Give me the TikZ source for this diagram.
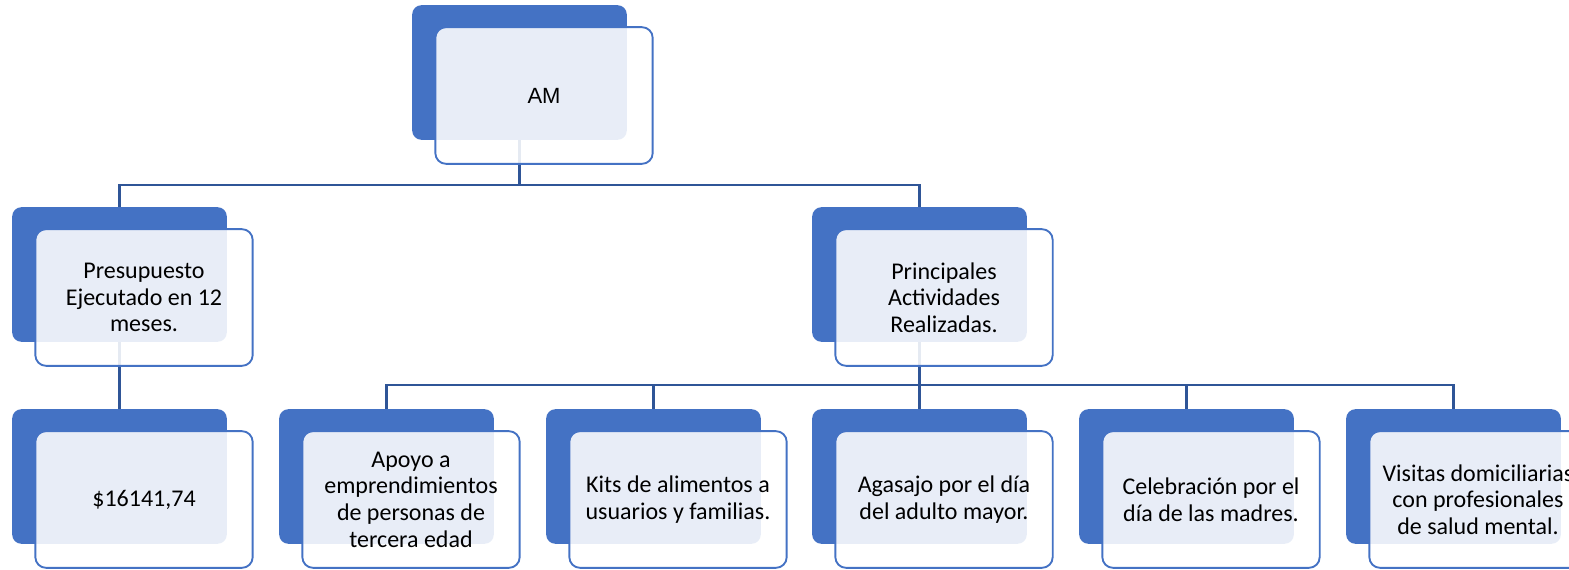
\documentclass[tikz,border=0pt]{standalone}
\usepackage{fontspec}
\setmainfont{Carlito}
\newfontfamily\amfont{Liberation Sans}
\pgfdeclarelayer{bg}
\pgfsetlayers{bg,main}
\definecolor{accent}{HTML}{4472C4}
\definecolor{linkblue}{HTML}{2F5597}
\tikzset{
	backbox/.style={fill=accent, rounded corners=7pt, minimum width=161pt, minimum height=101pt, inner sep=0pt},
	frontbox/.style={draw=accent, line width=1.4pt, fill=white, fill opacity=0.88, text opacity=1,
		rounded corners=8pt, minimum width=163pt, minimum height=102.5pt, inner sep=0pt,
		align=center, font=\fontsize{18}{20}\selectfont},
	link/.style={draw=linkblue, line width=1.8pt}
}
\begin{document}
\begin{tikzpicture}[x=0.75pt,y=-0.75pt]
			\useasboundingbox (0,0) rectangle (1569,570);
			\clip (0,0) rectangle (1569,570);
			% top
			\node [backbox] (am-b) at (519.5,72.5) {};
			\node [frontbox] (am) at (544,95.5) {\amfont\fontsize{16.5}{20}\selectfont AM};
			% second row
			\node [backbox] (pres-b) at (119.5,274.5) {};
			\node [frontbox] (pres) at (144,297.5) {Presupuesto\\Ejecutado en 12\\meses.};
			\node [backbox] (act-b) at (919.5,274.5) {};
			\node [frontbox] (act) at (944,297.5) {Principales\\Actividades\\Realizadas.};
			% third row
			\node [backbox] (monto-b) at (119.5,476.5) {};
			\node [frontbox] (monto) at (144,499.5) {\$16141,74};
			\node [backbox] (apoyo-b) at (386.5,476.5) {};
			\node [frontbox] (apoyo) at (411,499.5) {Apoyo a\\emprendimientos\\de personas de\\tercera edad};
			\node [backbox] (kits-b) at (653.5,476.5) {};
			\node [frontbox] (kits) at (678,499.5) {Kits de alimentos a\\usuarios y familias.};
			\node [backbox] (agasajo-b) at (919.5,476.5) {};
			\node [frontbox] (agasajo) at (944,499.5) {Agasajo por el día\\del adulto mayor.};
			\node [backbox] (madres-b) at (1186.5,476.5) {};
			\node [frontbox] (madres) at (1211,499.5) {Celebración por el\\día de las madres.};
			\node [backbox] (visitas-b) at (1453.5,476.5) {};
			\node [frontbox] (visitas) at (1478,499.5) {Visitas domiciliarias\\con profesionales\\de salud mental.};
			% connectors
			\coordinate (bar1) at (0,185);
			\coordinate (bar2) at (0,385);
			\begin{pgfonlayer}{bg}
				\draw [link] (am-b.south) -- (am-b.south |- bar1) -| (pres-b.north);
				\draw [link] (am-b.south |- bar1) -| (act-b.north);
				\draw [link] (pres-b.south) -- (monto-b.north);
				\draw [link] (act-b.south) -- (act-b.south |- bar2);
				\foreach \n in {apoyo,kits,agasajo,madres,visitas}
					\draw [link] (act-b.south |- bar2) -| (\n-b.north);
			\end{pgfonlayer}
		\end{tikzpicture}
\end{document}
